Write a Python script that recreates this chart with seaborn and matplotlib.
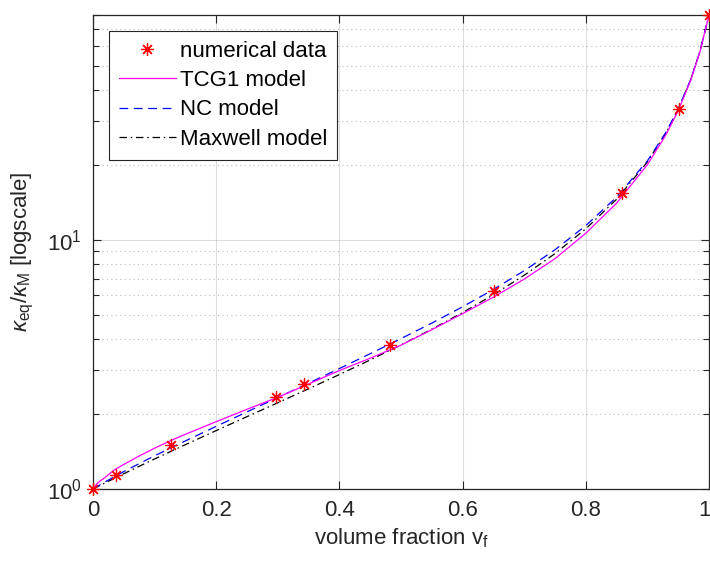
import matplotlib
matplotlib.use("Agg")
import matplotlib.pyplot as plt
import matplotlib.transforms as mtransforms
import seaborn as sns
import pandas as pd
from matplotlib.lines import Line2D
from matplotlib.ticker import LogLocator, NullFormatter, FixedLocator

# ---- data ----
vf_data = [0.0, 0.038, 0.126, 0.297, 0.343, 0.482, 0.651, 0.858, 0.952, 1.0]
k_data = [1.0, 1.14, 1.50, 2.35, 2.64, 3.79, 6.26, 15.4, 33.6, 80.0]

vf_model = [0.0, 0.005, 0.01, 0.02, 0.035, 0.05, 0.075, 0.1, 0.125, 0.15,
            0.2, 0.25, 0.3, 0.35, 0.4, 0.45, 0.5, 0.55, 0.6, 0.65,
            0.7, 0.75, 0.8, 0.85, 0.9, 0.93, 0.95, 0.97, 0.985, 1.0]
k_tcg1 = [1.000, 1.040, 1.070, 1.115, 1.195, 1.255, 1.357, 1.458, 1.560, 1.658,
          1.864, 2.089, 2.334, 2.640, 2.990, 3.350, 3.780, 4.360, 5.060, 5.890,
          6.960, 8.410, 10.64, 14.05, 20.06, 26.40, 33.00, 43.50, 56.60, 80.0]
k_nc = [1.000, 1.0175, 1.0343, 1.0696, 1.1213, 1.1748, 1.2645, 1.3594, 1.4559, 1.5595,
        1.7846, 2.0396, 2.3305, 2.6601, 3.0451, 3.4938, 4.0155, 4.6353, 5.3907, 6.3272,
        7.5234, 9.1301, 11.417, 14.856, 20.773, 27.023, 33.557, 43.93, 56.83, 80.0]
k_maxwell = [1.000, 1.0145, 1.0292, 1.0590, 1.1047, 1.1518, 1.2337, 1.3198, 1.4108, 1.5068,
             1.7160, 1.9518, 2.2195, 2.5262, 2.8809, 3.2960, 3.7882, 4.3812, 5.1097, 6.0259,
             7.2132, 8.8128, 11.0845, 14.5645, 20.567, 26.835, 33.390, 43.80, 56.77, 80.0]

labels = ["numerical data", "TCG1 model", "NC model", "Maxwell model"]
x_ticks = [0, 0.2, 0.4, 0.6, 0.8, 1]
x_ticklabels = ['0', '0.2', '0.4', '0.6', '0.8', '1']

sns.set_theme(style="white")
plt.rcParams['font.family'] = ['Liberation Sans', 'DejaVu Sans']
plt.rcParams['mathtext.fontset'] = 'custom'
plt.rcParams['mathtext.rm'] = 'Liberation Sans'
plt.rcParams['mathtext.it'] = 'Liberation Sans:italic'
plt.rcParams['mathtext.sf'] = 'Liberation Sans'

AX = '#262626'
fig = plt.figure(figsize=(7.10, 5.61), dpi=100)
ax = fig.add_axes([93/710, 72/561, 616/710, 474/561])

df_m = pd.DataFrame({"vf": vf_model, "tcg1": k_tcg1, "nc": k_nc, "mx": k_maxwell})
df_d = pd.DataFrame({"vf": vf_data, "k": k_data})

sns.lineplot(data=df_m, x="vf", y="mx", ax=ax, color='black', lw=0.9,
             linestyle=(0, (6, 3, 1.2, 3)), sort=False, zorder=3)
sns.lineplot(data=df_m, x="vf", y="nc", ax=ax, color='#0000FF', lw=0.9,
             linestyle=(0, (7, 4.5)), sort=False, zorder=4)
sns.lineplot(data=df_m, x="vf", y="tcg1", ax=ax, color='#FF00FF', lw=0.9,
             linestyle='-', sort=False, zorder=5)
sns.scatterplot(data=df_d, x="vf", y="k", ax=ax, marker=(8, 2, 0), color='red',
                s=70, linewidth=0.9, edgecolor='red', zorder=6, clip_on=False)

ax.set_yscale('log')
ax.set_xlim(0, 1)
ax.set_ylim(1, 80)
ax.xaxis.set_major_locator(FixedLocator(x_ticks))
ax.set_xticklabels(x_ticklabels)
ax.yaxis.set_major_locator(LogLocator(base=10, numticks=5))
ax.yaxis.set_minor_locator(LogLocator(base=10, subs=range(2, 10), numticks=20))
ax.yaxis.set_minor_formatter(NullFormatter())

ax.grid(which='major', axis='both', color=AX, alpha=0.15, lw=0.8, linestyle='-')
ax.yaxis.grid(which='minor', color=AX, alpha=0.3, lw=0.8, linestyle=(0, (1, 3)))
ax.set_axisbelow(True)

for s in ax.spines.values():
    s.set_color(AX)
    s.set_linewidth(0.9)
    s.set_visible(True)

ax.tick_params(which='both', direction='in', top=True, right=True, left=True, bottom=True,
               colors=AX, labelcolor=AX, labelsize=16, width=0.8)
ax.tick_params(which='major', length=6, pad=8)
ax.tick_params(which='minor', length=4)
ax.tick_params(axis='x', which='minor', bottom=False, top=False)

# keep the last x tick label inside the figure
last = ax.get_xticklabels()[-1]
last.set_transform(last.get_transform() + mtransforms.ScaledTranslation(-4/100, 0, fig.dpi_scale_trans))

ax.set_xlabel(r'volume fraction v$_\mathregular{f}$', fontsize=16, color=AX, labelpad=4)
ax.set_ylabel(r'$\kappa_\mathregular{eq}/\kappa_\mathregular{M}$ [logscale]', fontsize=16,
              color=AX, labelpad=8)

handles = [
    Line2D([], [], marker=(8, 2, 0), color='red', linestyle='none', markersize=9, mew=0.9),
    Line2D([], [], color='#FF00FF', lw=0.9),
    Line2D([], [], color='#0000FF', lw=0.9, linestyle=(0, (7, 4.5))),
    Line2D([], [], color='black', lw=0.9, linestyle=(0, (6, 3, 1.2, 3))),
]
leg = ax.legend(handles, labels, loc='upper left', fontsize=16, frameon=True, fancybox=False,
                edgecolor=AX, framealpha=1, borderaxespad=0.7, borderpad=0.45,
                handlelength=2.6, handletextpad=0.15, labelspacing=0.38)
leg.get_frame().set_linewidth(0.8)
for t in leg.get_texts():
    t.set_color('black')

fig.savefig('out.png', dpi=100)
